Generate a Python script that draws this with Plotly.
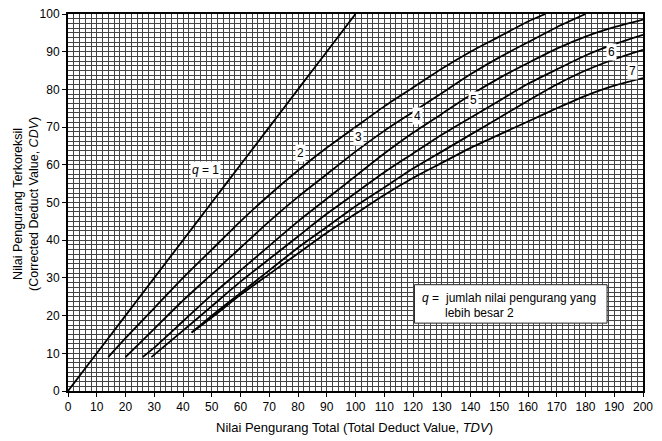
import plotly.graph_objects as go

# ---- data ----
tick_vals = [0, 10, 20, 30, 40, 50, 60, 70, 80, 90, 100, 110, 120, 130, 140, 150, 160, 170, 180, 190, 200]
y_tick_vals = [0, 10, 20, 30, 40, 50, 60, 70, 80, 90, 100]

q1_x = [0, 10, 20, 30, 40, 50, 60, 70, 80, 90, 100]
q1_y = [0, 10, 20, 30, 40, 50, 60, 70, 80, 90, 100]

q2_x = [14, 20, 30, 40, 50, 60, 70, 80, 90, 100, 110, 120, 130, 140, 150, 160, 166]
q2_y = [9, 14, 22, 30, 37.5, 45, 52, 58.5, 64.5, 70, 75.5, 80.5, 85.5, 90, 94, 98, 100]

q3_x = [20, 30, 40, 50, 60, 70, 80, 90, 100, 110, 120, 130, 140, 150, 160, 170, 180]
q3_y = [9, 16.5, 24, 31, 38, 45, 51.5, 57.5, 63.5, 69, 74, 79, 84, 88.5, 92.5, 96.5, 100]

q4_x = [26, 30, 40, 50, 60, 70, 80, 90, 100, 110, 120, 130, 140, 150, 160, 170, 180, 190, 200]
q4_y = [9, 11.5, 18.5, 25.5, 32, 38.5, 45, 51, 57, 63, 68.5, 73.5, 78.5, 83, 87, 90.8, 94, 96.5, 98.5]

q5_x = [29, 40, 50, 60, 70, 80, 90, 100, 110, 120, 130, 140, 150, 160, 170, 180, 190, 200]
q5_y = [9, 16, 22.5, 29, 35, 41, 47, 52.5, 58, 63, 68, 72.5, 77, 81.5, 85.3, 89, 92, 94.5]

q6_x = [43, 50, 60, 70, 80, 90, 100, 110, 120, 130, 140, 150, 160, 170, 180, 190, 200]
q6_y = [15.5, 20, 26, 32, 38, 43.5, 49, 54, 59, 63.5, 68, 72.5, 77, 81.3, 85, 88, 90.5]

q7_x = [43, 50, 60, 70, 80, 90, 100, 110, 120, 130, 140, 150, 160, 170, 180, 190, 200]
q7_y = [15.5, 19.5, 25.5, 31, 36.5, 42, 47, 52, 56.5, 60.5, 64.5, 68, 71.5, 75, 78.3, 81, 83]

curves = [(q1_x, q1_y), (q2_x, q2_y), (q3_x, q3_y), (q4_x, q4_y),
          (q5_x, q5_y), (q6_x, q6_y), (q7_x, q7_y)]

label_text = ["<i>q</i> = 1", "2", "3", "4", "5", "6", "7"]
label_x = [47.7, 80.7, 100.9, 121.7, 140.9, 189.2, 196.2]
label_y = [58.6, 63.1, 67.4, 72.9, 77.2, 90.0, 85.0]

FONT = "Liberation Sans, Arial, sans-serif"

fig = go.Figure()
for cx, cy in curves:
    fig.add_trace(go.Scatter(x=cx, y=cy, mode="lines",
                             line=dict(color="black", width=1.8, shape="spline", smoothing=0.6),
                             showlegend=False, hoverinfo="skip"))

annotations = []
for t, lx, ly in zip(label_text, label_x, label_y):
    annotations.append(dict(x=lx, y=ly, xref="x", yref="y", text=t, showarrow=False,
                            bgcolor="white", borderpad=1, font=dict(family=FONT, size=12, color="black")))

# note box
annotations.append(dict(x=122.4, y=24.6, xref="x", yref="y", text="<i>q</i> =", showarrow=False,
                        xanchor="left", font=dict(family=FONT, size=12, color="black")))
annotations.append(dict(x=130.6, y=24.6, xref="x", yref="y", text="jumlah nilai pengurang yang", showarrow=False,
                        xanchor="left", font=dict(family=FONT, size=12, color="black")))
annotations.append(dict(x=130.6, y=20.6, xref="x", yref="y", text="lebih besar 2", showarrow=False,
                        xanchor="left", font=dict(family=FONT, size=12, color="black")))

# axis titles
annotations.append(dict(x=0.499, y=-0.098, xref="paper", yref="paper", xanchor="center", yanchor="middle",
                        text="Nilai Pengurang Total (Total Deduct Value, <i>TDV</i>)", showarrow=False,
                        font=dict(family=FONT, size=13, color="black")))
annotations.append(dict(x=-0.072, y=0.495, xref="paper", yref="paper", textangle=-90,
                        xanchor="center", yanchor="middle",
                        text="Nilai Pengurang Terkoreksil<br>(Corrected Deduct Value, <i>CDV</i>)", showarrow=False,
                        font=dict(family=FONT, size=12.5, color="black")))

fig.update_layout(
    template="none",
    width=662, height=441,
    margin=dict(l=68, r=19, t=14, b=50, autoexpand=False),
    paper_bgcolor="white", plot_bgcolor="white",
    annotations=annotations,
    shapes=[dict(type="rect", xref="x", yref="y", x0=120.5, x1=187.5, y0=18, y1=28.2,
                 fillcolor="white", line=dict(color="#222", width=1), layer="above")],
    xaxis=dict(range=[0, 200], tickvals=tick_vals, ticks="outside", ticklen=4, tickcolor="black",
               automargin=False,
               showline=True, mirror=True, linecolor="black", linewidth=2,
               showgrid=True, gridcolor="#444444", gridwidth=0.9,
               minor=dict(dtick=2, showgrid=True, gridcolor="#444444", gridwidth=0.9, ticks=""),
               zeroline=False, tickfont=dict(family=FONT, size=12, color="black")),
    yaxis=dict(range=[0, 100], tickvals=y_tick_vals, ticks="outside", ticklen=4, tickcolor="black",
               automargin=False,
               showline=True, mirror=True, linecolor="black", linewidth=2,
               showgrid=True, gridcolor="#444444", gridwidth=0.9,
               minor=dict(dtick=1.25, showgrid=True, gridcolor="#444444", gridwidth=0.9, ticks=""),
               zeroline=False, tickfont=dict(family=FONT, size=12, color="black")),
)

fig.write_html("out.html", config={"displayModeBar": False},
               post_script="document.body.style.margin='0';document.body.style.overflow='hidden';")
